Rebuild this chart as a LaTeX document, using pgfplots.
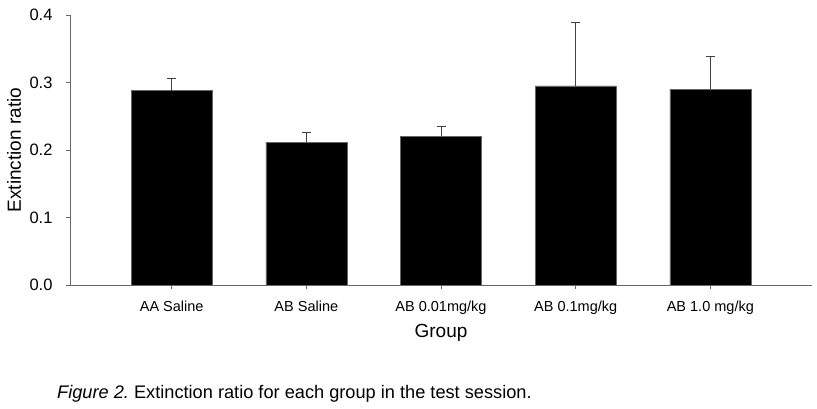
\documentclass[border=0pt]{standalone}
\usepackage{pgfplots}
\pgfplotsset{compat=1.18}
\usepackage{fontspec}
\setmainfont{Liberation Sans}

\begin{document}
\begin{tikzpicture}
\path[use as bounding box] (-70pt,-124pt) rectangle (747pt,285pt);
\begin{axis}[
    at={(0,0)}, anchor=south west,
    width=742pt, height=270pt, scale only axis,
    xmin=-0.755, xmax=4.755,
    ymin=0, ymax=0.4,
    axis x line=bottom, axis y line=left,
    axis line style={-, draw=black!60, line width=0.8pt},
    tick style={draw=black!60, line width=0.8pt},
    tick align=outside, major tick length=4pt,
    xtick={0,1,2,3,4},
    xticklabels={AA Saline, AB Saline, AB 0.01mg/kg, AB 0.1mg/kg, AB 1.0 mg/kg},
    ytick={0,0.1,0.2,0.3,0.4},
    /pgf/number format/assume math mode=true,
    yticklabel style={font=\fontsize{16.5}{18}\selectfont, xshift=-10pt,
        /pgf/number format/fixed, /pgf/number format/fixed zerofill,
        /pgf/number format/precision=1},
    xticklabel style={font=\fontsize{14.5}{16}\selectfont, yshift=-8.5pt},
    ylabel={Extinction ratio},
    xlabel={Group},
    ylabel style={font=\fontsize{19}{21}\selectfont,
        at={(axis description cs:-0.0755,0.5)}, anchor=center},
    xlabel style={font=\fontsize{19}{21}\selectfont,
        at={(axis description cs:0.5,-0.1963)}, anchor=base},
    ybar, bar width=81pt,
]
\addplot[fill=black, draw=black!60,
    error bars/.cd, y dir=plus, y explicit,
    error bar style={black!75, line width=0.8pt},
    error mark options={black!75, line width=0.8pt, mark size=4.5pt, rotate=90}]
coordinates {
    (0,0.288)  +- (0,0.0175)
    (1,0.2115) +- (0,0.0145)
    (2,0.220)  +- (0,0.0147)
    (3,0.295)  +- (0,0.094)
    (4,0.290)  +- (0,0.048)
};
\end{axis}
\node[anchor=base west, font=\fontsize{18.2}{20}\selectfont, inner sep=0pt]
    at (-13pt,-114pt) {\textit{Figure 2.}\ Extinction ratio for each group in the test session.};
\end{tikzpicture}
\end{document}
